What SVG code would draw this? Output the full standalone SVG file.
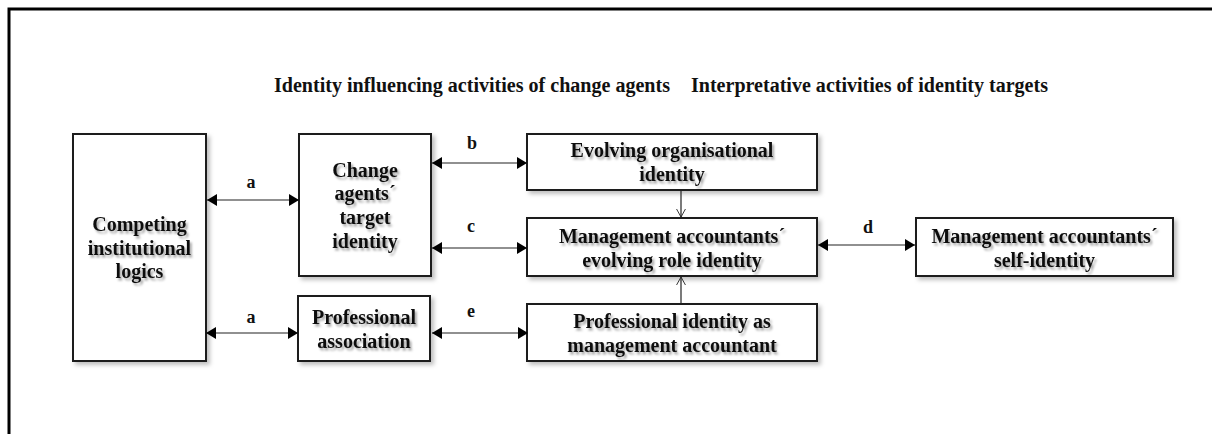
<svg xmlns="http://www.w3.org/2000/svg" width="1212" height="434" viewBox="0 0 1212 434">
<style>
  .box{fill:#fff;stroke:#1a1a1a;stroke-width:2;filter:url(#bshadow)}
  .t{font-family:"Liberation Serif","Times New Roman",serif;font-weight:bold;font-size:20px;fill:#111;text-anchor:middle;filter:url(#tshadow)}
  .h{font-family:"Liberation Serif","Times New Roman",serif;font-weight:bold;font-size:20px;fill:#111}
  .lbl{font-family:"Liberation Serif","Times New Roman",serif;font-weight:bold;font-size:18px;fill:#111;text-anchor:middle}
  .con{stroke:#222;stroke-width:1.2;fill:none}
</style>
<defs>
  <filter id="bshadow" x="-10%" y="-10%" width="130%" height="130%">
    <feDropShadow dx="3" dy="3" stdDeviation="2" flood-color="#000" flood-opacity="0.25"/>
  </filter>
  <filter id="tshadow" x="-10%" y="-30%" width="130%" height="170%">
    <feDropShadow dx="2" dy="2.5" stdDeviation="1.3" flood-color="#000" flood-opacity="0.35"/>
  </filter>
  <marker id="ah" viewBox="0 0 10 12" refX="10" refY="6" markerWidth="10" markerHeight="12" markerUnits="userSpaceOnUse" orient="auto-start-reverse">
    <path d="M0,0 L10,6 L0,12 z" fill="#000"/>
  </marker>
  <marker id="oh" viewBox="0 0 10 10" refX="9" refY="5" markerWidth="9" markerHeight="10" markerUnits="userSpaceOnUse" orient="auto">
    <path d="M0,0 L9,5 L0,10" fill="none" stroke="#222" stroke-width="1"/>
  </marker>
</defs>
<rect width="1212" height="434" fill="#fff"/>
<rect x="9" y="9" width="1300" height="1000" fill="none" stroke="#000" stroke-width="3"/>

<g id="headings">
  <text class="h" x="274" y="92" textLength="396" lengthAdjust="spacingAndGlyphs">Identity influencing activities of change agents</text>
  <text class="h" x="691" y="92" textLength="357" lengthAdjust="spacingAndGlyphs">Interpretative activities of identity targets</text>
</g>

<g id="n-competing">
  <rect class="box" x="73" y="134" width="133" height="227"/>
  <text class="t"><tspan x="139.5" y="231">Competing</tspan><tspan x="139.5" y="254.5">institutional</tspan><tspan x="139.5" y="278">logics</tspan></text>
</g>
<g id="n-change">
  <rect class="box" x="299" y="134" width="132" height="142"/>
  <text class="t"><tspan x="365" y="176.5">Change</tspan><tspan x="365" y="200">agents´</tspan><tspan x="365" y="224">target</tspan><tspan x="365" y="247.5">identity</tspan></text>
</g>
<g id="n-profassoc">
  <rect class="box" x="298" y="296" width="132" height="65"/>
  <text class="t"><tspan x="364" y="323.5">Professional</tspan><tspan x="364" y="347.5">association</tspan></text>
</g>
<g id="n-org">
  <rect class="box" x="527" y="134" width="290" height="56"/>
  <text class="t"><tspan x="672" y="157">Evolving organisational</tspan><tspan x="672" y="181">identity</tspan></text>
</g>
<g id="n-role">
  <rect class="box" x="527" y="218" width="290" height="58"/>
  <text class="t"><tspan x="672" y="242.5">Management accountants´</tspan><tspan x="672" y="266.5">evolving role identity</tspan></text>
</g>
<g id="n-profid">
  <rect class="box" x="527" y="304" width="290" height="57"/>
  <text class="t"><tspan x="672" y="327.5">Professional identity as</tspan><tspan x="672" y="351.5">management accountant</tspan></text>
</g>
<g id="n-self">
  <rect class="box" x="916" y="218" width="257" height="58"/>
  <text class="t"><tspan x="1044.5" y="242.5">Management accountants´</tspan><tspan x="1044.5" y="266.5">self-identity</tspan></text>
</g>

<g id="connectors">
  <line class="con" x1="207" y1="200" x2="299" y2="200" marker-start="url(#ah)" marker-end="url(#ah)"/>
  <line class="con" x1="206" y1="333" x2="298" y2="333" marker-start="url(#ah)" marker-end="url(#ah)"/>
  <line class="con" x1="432" y1="163" x2="527" y2="163" marker-start="url(#ah)" marker-end="url(#ah)"/>
  <line class="con" x1="432" y1="248" x2="527" y2="248" marker-start="url(#ah)" marker-end="url(#ah)"/>
  <line class="con" x1="432" y1="333" x2="528" y2="333" marker-start="url(#ah)" marker-end="url(#ah)"/>
  <line class="con" x1="818" y1="245" x2="915" y2="245" marker-start="url(#ah)" marker-end="url(#ah)"/>
  <line class="con" x1="681" y1="191" x2="681" y2="217" marker-end="url(#oh)"/>
  <line class="con" x1="681" y1="304" x2="681" y2="277" marker-end="url(#oh)"/>
  <text class="lbl" x="251" y="188">a</text>
  <text class="lbl" x="251" y="323">a</text>
  <text class="lbl" x="472" y="149">b</text>
  <text class="lbl" x="471" y="232">c</text>
  <text class="lbl" x="471" y="317">e</text>
  <text class="lbl" x="868" y="233">d</text>
</g>
</svg>
